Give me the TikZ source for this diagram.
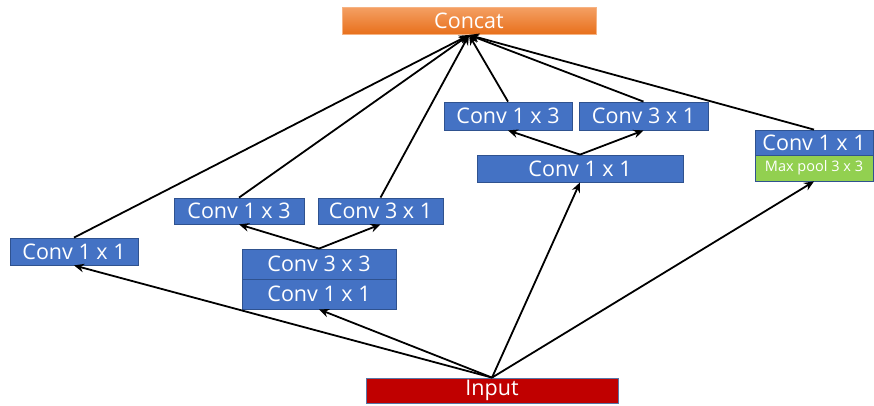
\documentclass[tikz,border=0pt]{standalone}
\usepackage{fontspec}
\setmainfont{Open Sans}
\usetikzlibrary{arrows.meta}
\definecolor{bluebox}{HTML}{4472C4}
\definecolor{blueedge}{HTML}{2F528F}
\definecolor{greenbox}{HTML}{92D050}
\definecolor{redbox}{HTML}{C00000}
\definecolor{orangetop}{HTML}{F4A064}
\definecolor{orangebot}{HTML}{E8701C}
\tikzset{
  box/.style={rectangle, draw=blueedge, line width=0.8pt, fill=bluebox, text=white,
    inner sep=0pt, font=\fontsize{21.5}{24}\selectfont},
  arr/.style={-{Stealth[length=10pt,width=8.5pt]}, line width=1.8pt, black},
}
\begin{document}
\begin{tikzpicture}[x=1pt,y=-1pt]
\useasboundingbox (0,0) rectangle (874,405);
% Concat
\node[rectangle, top color=orangetop, bottom color=orangebot, draw=orangetop!80!white, line width=0.6pt,
  text=white, inner sep=0pt, minimum width=254pt, minimum height=27pt,
  font=\fontsize{21.5}{24}\selectfont] (concat) at (469,20.5) {Concat};
% Input
\node[rectangle, fill=redbox, draw=blueedge!80, line width=0.8pt, text=white, inner sep=0pt,
  minimum width=252pt, minimum height=25pt, font=\fontsize{21.5}{24}\selectfont] (input) at (492,390.5) {Input};
% branch 1
\node[box, minimum width=128pt, minimum height=27pt] (b1) at (74,251.5) {Conv 1 x 1};
% branch 2
\node[box, minimum width=154pt, minimum height=30pt] (b2a) at (319,294) {Conv 1 x 1};
\node[box, minimum width=154pt, minimum height=30pt] (b2b) at (319,264) {Conv 3 x 3};
\node[box, minimum width=130pt, minimum height=26pt] (b2c) at (239,211) {Conv 1 x 3};
\node[box, minimum width=125pt, minimum height=26pt] (b2d) at (380.5,211) {Conv 3 x 1};
% branch 3
\node[box, minimum width=206pt, minimum height=27pt] (b3a) at (580,168.5) {Conv 1 x 1};
\node[box, minimum width=128pt, minimum height=28pt] (b3b) at (508,116) {Conv 1 x 3};
\node[box, minimum width=129pt, minimum height=28pt] (b3c) at (643.5,116) {Conv 3 x 1};
% branch 4
\node[box, fill=greenbox, minimum width=118pt, minimum height=26pt,
  font=\fontsize{14.5}{17}\selectfont] (b4a) at (814,168) {Max pool 3 x 3};
\node[box, minimum width=118pt, minimum height=25pt] (b4b) at (814,142.5) {Conv 1 x 1};
\coordinate (ct) at (469,35);
% arrows from input
\draw[arr] (input.north) -- (b1.south);
\draw[arr] (input.north) -- (b2a.south);
\draw[arr] (input.north) -- (b3a.south);
\draw[arr] (input.north) -- (b4a.south);
% inner
\draw[arr] (b2b.north) -- (b2c.south);
\draw[arr] (b2b.north) -- (b2d.south);
\draw[arr] (b3a.north) -- (b3b.south);
\draw[arr] (b3a.north) -- (b3c.south);
% to concat
\draw[arr] (b1.north) -- (ct);
\draw[arr] (b2c.north) -- (ct);
\draw[arr] (b2d.north) -- (ct);
\draw[arr] (b3b.north) -- (ct);
\draw[arr] (b3c.north) -- (ct);
\draw[arr] (b4b.north) -- (ct);
\end{tikzpicture}
\end{document}
